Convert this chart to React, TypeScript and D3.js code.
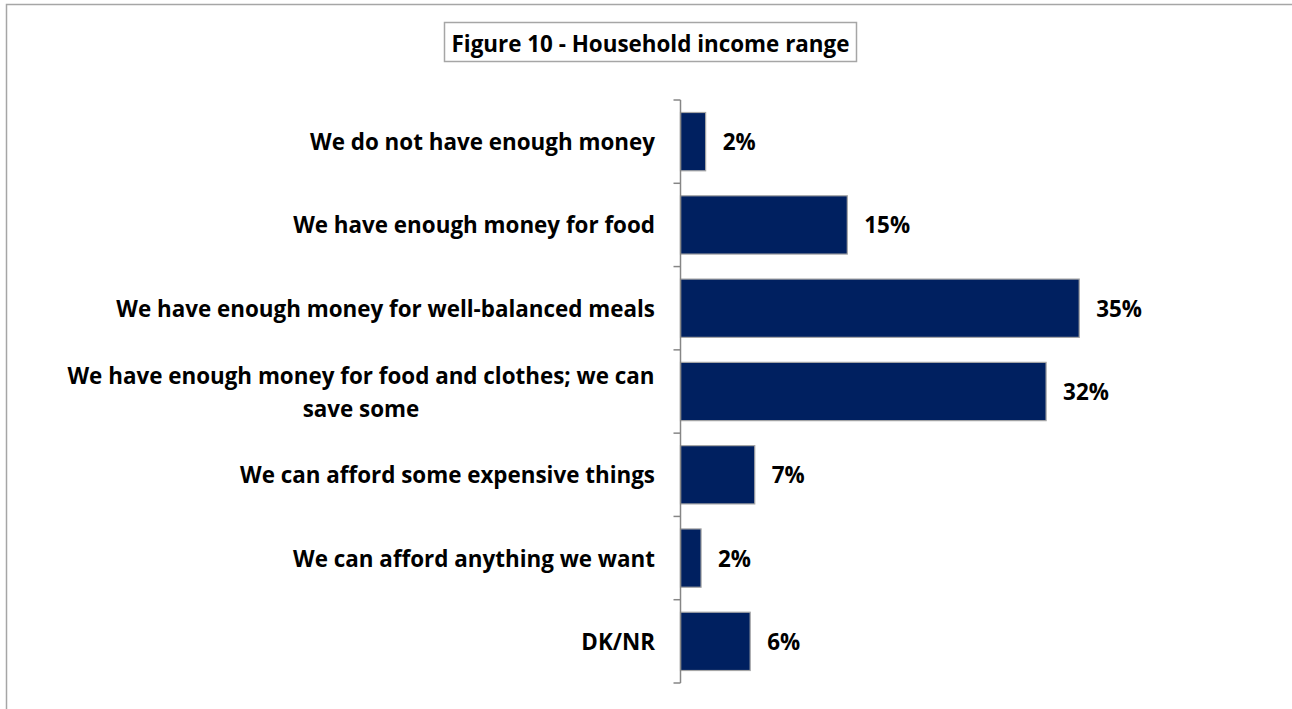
import React from "react";
import * as d3 from "d3";

const categories: string[][] = [
  ["We do not have enough money"],
  ["We have enough money for food"],
  ["We have enough money for well-balanced meals"],
  ["We have enough money for food and clothes; we can", "save some"],
  ["We can afford some expensive things"],
  ["We can afford anything we want"],
  ["DK/NR"],
];
const values: number[] = [2.2, 14.6, 34.9, 32.0, 6.5, 1.8, 6.1];
const valueLabels: string[] = ["2%", "15%", "35%", "32%", "7%", "2%", "6%"];
const title = "Figure 10 - Household income range";

const W = 1292;
const H = 709;
const FONT = "'Open Sans', Lato, sans-serif";
const FS = 22.4;

export default function App() {
  const axisX = 680.5;
  const top = 100;
  const bottom = 683;
  const y = d3
    .scaleBand<number>()
    .domain(d3.range(categories.length))
    .range([top, bottom])
    .paddingInner(0.3)
    .paddingOuter(0.15);
  const x = d3.scaleLinear().domain([0, 40]).range([axisX, axisX + 457]);
  const step = y.step();
  const ticks = d3.range(categories.length + 1).map((i) => top + i * step);

  return (
    <svg
      width={W}
      height={H}
      style={{ position: "absolute", left: 0, top: 0, display: "block" }}
    >
      <rect x={0} y={0} width={W} height={H} fill="#fff" />
      <path d={`M6.5,${H} V4.5 H${W + 5}`} fill="none" stroke="#a6a6a6" strokeWidth={1.5} />
      {/* title box */}
      <rect x={444.5} y={22.5} width={412} height={39} fill="#fff" stroke="#a6a6a6" strokeWidth={1.5} />
      <text
        x={650.5}
        y={43}
        textAnchor="middle"
        dominantBaseline="central"
        fontFamily={FONT}
        fontWeight="bold"
        fontSize={FS}
        fill="#000"
      >
        {title}
      </text>
      {/* bars */}
      {values.map((v, i) => (
        <rect
          key={"b" + i}
          x={x(0)}
          y={y(i)!}
          width={x(v) - x(0)}
          height={y.bandwidth()}
          fill="#002060"
          stroke="#a6a6a6"
          strokeWidth={1.2}
        />
      ))}
      {/* axis */}
      <line x1={axisX} x2={axisX} y1={top} y2={bottom} stroke="#868686" strokeWidth={1.5} />
      {ticks.map((t, i) => (
        <line key={"t" + i} x1={axisX - 7} x2={axisX} y1={t} y2={t} stroke="#868686" strokeWidth={1.5} />
      ))}
      {/* category labels */}
      {categories.map((lines, i) => {
        const cy = y(i)! + y.bandwidth() / 2;
        const lh = 33;
        const y0 = cy - ((lines.length - 1) * lh) / 2;
        return (
          <text
            key={"c" + i}
            fontFamily={FONT}
            fontWeight="bold"
            fontSize={FS}
            fill="#000"
          >
            {lines.map((l, j) => (
              <tspan
                key={j}
                x={lines.length > 1 ? 361 : 655}
                textAnchor={lines.length > 1 ? "middle" : "end"}
                y={y0 + j * lh}
                dominantBaseline="central"
              >
                {l}
              </tspan>
            ))}
          </text>
        );
      })}
      {/* value labels */}
      {values.map((v, i) => (
        <text
          key={"v" + i}
          x={x(v) + 17}
          y={y(i)! + y.bandwidth() / 2}
          dominantBaseline="central"
          fontFamily={FONT}
          fontWeight="bold"
          fontSize={FS}
          fill="#000"
        >
          {valueLabels[i]}
        </text>
      ))}
    </svg>
  );
}
